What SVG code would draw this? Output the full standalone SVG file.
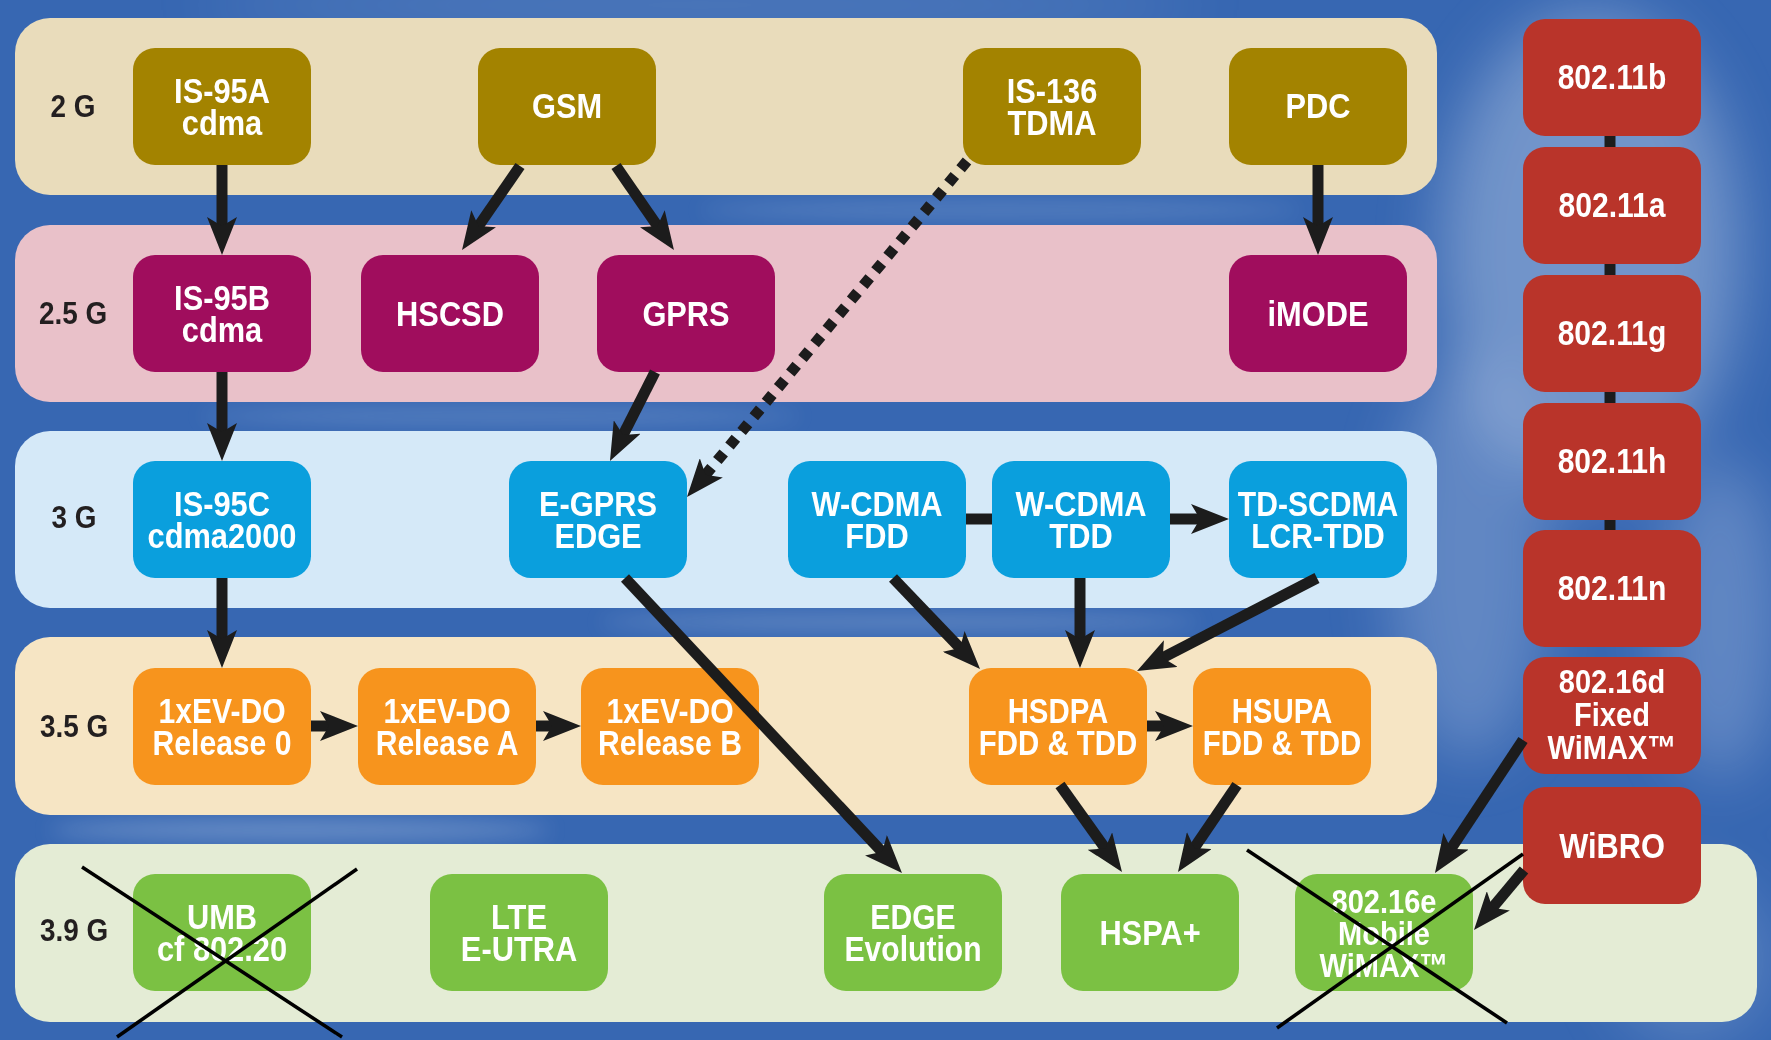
<svg xmlns="http://www.w3.org/2000/svg" width="1771" height="1040" viewBox="0 0 1771 1040">
<defs>
<style>
.nt{font-family:"Liberation Sans","Arial",sans-serif;font-weight:bold;font-size:35px;fill:#ffffff;text-anchor:middle}
.sm{font-size:33px}
.lbl{font-family:"Liberation Sans","Arial",sans-serif;font-weight:bold;font-size:31px;fill:#231f20;text-anchor:middle}
.c2{fill:#a38300}.c25{fill:#a00d5d}.c3{fill:#0a9fdd}.c35{fill:#f7941d}.c39{fill:#7bc143}.cw{fill:#b9342a}
.b2{fill:#e9dcbb}.b25{fill:#e9c1c9}.b3{fill:#d5e9f8}.b35{fill:#f6e5c4}.b39{fill:#e4ecd5}
.conn{stroke:#1c1c1c;stroke-width:11;fill:none;marker-end:url(#ah)}
.dot{stroke-dasharray:10 9}
.link{stroke:#1c1c1c;stroke-width:11;fill:none}
.x{stroke:#000;stroke-width:3.5;fill:none}
</style>
<marker id="ah" markerUnits="userSpaceOnUse" viewBox="0 0 40 30" markerWidth="40" markerHeight="30" refX="18" refY="15" orient="auto">
<path d="M0,0 L38,15 L0,30 L9,15 z" fill="#1c1c1c"/>
</marker>
<filter id="blur" x="-50%" y="-50%" width="200%" height="200%"><feGaussianBlur stdDeviation="30"/></filter>
<filter id="blur2" x="-50%" y="-50%" width="200%" height="200%"><feGaussianBlur stdDeviation="10"/></filter>
</defs>

<g id="background">
<rect x="0" y="0" width="1771" height="1040" fill="#3767b2"/>
<g filter="url(#blur)" fill="#dfe9f6">
<ellipse cx="1590" cy="250" rx="150" ry="240" opacity="0.35"/>
<ellipse cx="1470" cy="560" rx="80" ry="200" opacity="0.25"/>
<ellipse cx="1720" cy="620" rx="60" ry="160" opacity="0.25"/>
<ellipse cx="1690" cy="960" rx="80" ry="80" opacity="0.2"/>
<ellipse cx="700" cy="5" rx="500" ry="20" opacity="0.2"/>
</g>
<g filter="url(#blur2)" fill="#e6eef8">
<ellipse cx="300" cy="830" rx="250" ry="10" opacity="0.3"/>
<ellipse cx="900" cy="622" rx="300" ry="8" opacity="0.25"/>
<ellipse cx="500" cy="416" rx="300" ry="8" opacity="0.2"/>
<ellipse cx="1000" cy="210" rx="300" ry="8" opacity="0.2"/>
</g>
</g>

<g id="bands">
<g id="band-2g"><rect class="b2" x="15" y="18" width="1422" height="177" rx="35"/><text class="lbl" transform="translate(73 0) scale(0.9 1)" x="0" y="117">2 G</text></g>
<g id="band-25g"><rect class="b25" x="15" y="225" width="1422" height="177" rx="35"/><text class="lbl" transform="translate(73 0) scale(0.9 1)" x="0" y="324">2.5 G</text></g>
<g id="band-3g"><rect class="b3" x="15" y="431" width="1422" height="177" rx="35"/><text class="lbl" transform="translate(74 0) scale(0.9 1)" x="0" y="528">3 G</text></g>
<g id="band-35g"><rect class="b35" x="15" y="637" width="1422" height="178" rx="35"/><text class="lbl" transform="translate(74 0) scale(0.9 1)" x="0" y="737">3.5 G</text></g>
<g id="band-39g"><rect class="b39" x="15" y="844" width="1742" height="178" rx="35"/><text class="lbl" transform="translate(74 0) scale(0.9 1)" x="0" y="941">3.9 G</text></g>
</g>

<g id="wifi-links">
<line class="link" x1="1610" y1="130" x2="1610" y2="535" stroke-width="10"/>
</g>

<g id="nodes">
<g id="n-is95a"><rect class="c2" x="133" y="48" width="178" height="117" rx="22"/><text class="nt" transform="translate(222 0) scale(0.88 1)"><tspan x="0" y="103">IS-95A</tspan><tspan x="0" y="135">cdma</tspan></text></g>
<g id="n-gsm"><rect class="c2" x="478" y="48" width="178" height="117" rx="22"/><text class="nt" transform="translate(567 0) scale(0.88 1)" x="0" y="118">GSM</text></g>
<g id="n-is136"><rect class="c2" x="963" y="48" width="178" height="117" rx="22"/><text class="nt" transform="translate(1052 0) scale(0.88 1)"><tspan x="0" y="103">IS-136</tspan><tspan x="0" y="135">TDMA</tspan></text></g>
<g id="n-pdc"><rect class="c2" x="1229" y="48" width="178" height="117" rx="22"/><text class="nt" transform="translate(1318 0) scale(0.88 1)" x="0" y="118">PDC</text></g>

<g id="n-is95b"><rect class="c25" x="133" y="255" width="178" height="117" rx="22"/><text class="nt" transform="translate(222 0) scale(0.88 1)"><tspan x="0" y="310">IS-95B</tspan><tspan x="0" y="342">cdma</tspan></text></g>
<g id="n-hscsd"><rect class="c25" x="361" y="255" width="178" height="117" rx="22"/><text class="nt" transform="translate(450 0) scale(0.88 1)" x="0" y="326">HSCSD</text></g>
<g id="n-gprs"><rect class="c25" x="597" y="255" width="178" height="117" rx="22"/><text class="nt" transform="translate(686 0) scale(0.88 1)" x="0" y="326">GPRS</text></g>
<g id="n-imode"><rect class="c25" x="1229" y="255" width="178" height="117" rx="22"/><text class="nt" transform="translate(1318 0) scale(0.88 1)" x="0" y="326">iMODE</text></g>

<g id="n-is95c"><rect class="c3" x="133" y="461" width="178" height="117" rx="22"/><text class="nt" transform="translate(222 0) scale(0.88 1)"><tspan x="0" y="516">IS-95C</tspan><tspan x="0" y="548">cdma2000</tspan></text></g>
<g id="n-egprs"><rect class="c3" x="509" y="461" width="178" height="117" rx="22"/><text class="nt" transform="translate(598 0) scale(0.88 1)"><tspan x="0" y="516">E-GPRS</tspan><tspan x="0" y="548">EDGE</tspan></text></g>
<g id="n-wcdma-fdd"><rect class="c3" x="788" y="461" width="178" height="117" rx="22"/><text class="nt" transform="translate(877 0) scale(0.88 1)"><tspan x="0" y="516">W-CDMA</tspan><tspan x="0" y="548">FDD</tspan></text></g>
<g id="n-wcdma-tdd"><rect class="c3" x="992" y="461" width="178" height="117" rx="22"/><text class="nt" transform="translate(1081 0) scale(0.88 1)"><tspan x="0" y="516">W-CDMA</tspan><tspan x="0" y="548">TDD</tspan></text></g>
<g id="n-tdscdma"><rect class="c3" x="1229" y="461" width="178" height="117" rx="22"/><text class="nt" transform="translate(1318 0) scale(0.86 1)"><tspan x="0" y="516">TD-SCDMA</tspan><tspan x="0" y="548">LCR-TDD</tspan></text></g>

<g id="n-evdo0"><rect class="c35" x="133" y="668" width="178" height="117" rx="22"/><text class="nt" transform="translate(222 0) scale(0.86 1)"><tspan x="0" y="723">1xEV-DO</tspan><tspan x="0" y="755">Release 0</tspan></text></g>
<g id="n-evdoa"><rect class="c35" x="358" y="668" width="178" height="117" rx="22"/><text class="nt" transform="translate(447 0) scale(0.86 1)"><tspan x="0" y="723">1xEV-DO</tspan><tspan x="0" y="755">Release A</tspan></text></g>
<g id="n-evdob"><rect class="c35" x="581" y="668" width="178" height="117" rx="22"/><text class="nt" transform="translate(670 0) scale(0.86 1)"><tspan x="0" y="723">1xEV-DO</tspan><tspan x="0" y="755">Release B</tspan></text></g>
<g id="n-hsdpa"><rect class="c35" x="969" y="668" width="178" height="117" rx="22"/><text class="nt" transform="translate(1058 0) scale(0.84 1)"><tspan x="0" y="723">HSDPA</tspan><tspan x="0" y="755">FDD &amp; TDD</tspan></text></g>
<g id="n-hsupa"><rect class="c35" x="1193" y="668" width="178" height="117" rx="22"/><text class="nt" transform="translate(1282 0) scale(0.84 1)"><tspan x="0" y="723">HSUPA</tspan><tspan x="0" y="755">FDD &amp; TDD</tspan></text></g>

<g id="n-umb"><rect class="c39" x="133" y="874" width="178" height="117" rx="22"/><text class="nt" transform="translate(222 0) scale(0.88 1)"><tspan x="0" y="929">UMB</tspan><tspan x="0" y="961">cf 802.20</tspan></text></g>
<g id="n-lte"><rect class="c39" x="430" y="874" width="178" height="117" rx="22"/><text class="nt" transform="translate(519 0) scale(0.88 1)"><tspan x="0" y="929">LTE</tspan><tspan x="0" y="961">E-UTRA</tspan></text></g>
<g id="n-edgeevo"><rect class="c39" x="824" y="874" width="178" height="117" rx="22"/><text class="nt" transform="translate(913 0) scale(0.86 1)"><tspan x="0" y="929">EDGE</tspan><tspan x="0" y="961">Evolution</tspan></text></g>
<g id="n-hspaplus"><rect class="c39" x="1061" y="874" width="178" height="117" rx="22"/><text class="nt" transform="translate(1150 0) scale(0.88 1)" x="0" y="945">HSPA+</text></g>
<g id="n-80216e"><rect class="c39" x="1295" y="874" width="178" height="117" rx="22"/><text class="nt sm" transform="translate(1384 0) scale(0.88 1)"><tspan x="0" y="913">802.16e</tspan><tspan x="0" y="945">Mobile</tspan><tspan x="0" y="977">WiMAX™</tspan></text></g>

<g id="n-80211b"><rect class="cw" x="1523" y="19" width="178" height="117" rx="22"/><text class="nt" transform="translate(1612 0) scale(0.86 1)" x="0" y="89">802.11b</text></g>
<g id="n-80211a"><rect class="cw" x="1523" y="147" width="178" height="117" rx="22"/><text class="nt" transform="translate(1612 0) scale(0.86 1)" x="0" y="217">802.11a</text></g>
<g id="n-80211g"><rect class="cw" x="1523" y="275" width="178" height="117" rx="22"/><text class="nt" transform="translate(1612 0) scale(0.86 1)" x="0" y="345">802.11g</text></g>
<g id="n-80211h"><rect class="cw" x="1523" y="403" width="178" height="117" rx="22"/><text class="nt" transform="translate(1612 0) scale(0.86 1)" x="0" y="473">802.11h</text></g>
<g id="n-80211n"><rect class="cw" x="1523" y="530" width="178" height="117" rx="22"/><text class="nt" transform="translate(1612 0) scale(0.86 1)" x="0" y="600">802.11n</text></g>
<g id="n-80216d"><rect class="cw" x="1523" y="657" width="178" height="117" rx="22"/><text class="nt sm" transform="translate(1612 0) scale(0.88 1)"><tspan x="0" y="693">802.16d</tspan><tspan x="0" y="726">Fixed</tspan><tspan x="0" y="759">WiMAX™</tspan></text></g>
<g id="n-wibro"><rect class="cw" x="1523" y="787" width="178" height="117" rx="22"/><text class="nt" transform="translate(1612 0) scale(0.88 1)" x="0" y="858">WiBRO</text></g>
</g>

<g id="connectors">
<line class="conn" x1="222" y1="165" x2="222" y2="235"/>
<line class="conn" x1="520" y1="166" x2="473.4" y2="233.5"/>
<line class="conn" x1="616" y1="166" x2="662.6" y2="233.5"/>
<line class="conn" x1="1318" y1="165" x2="1318" y2="235"/>
<line class="conn" x1="222" y1="372" x2="222" y2="441"/>
<line class="conn" x1="655" y1="372" x2="619" y2="443.1"/>
<line class="conn dot" x1="967" y1="161" x2="699.8" y2="481.6"/>
<line class="conn" x1="222" y1="578" x2="222" y2="648"/>
<line class="conn" x1="311" y1="726" x2="338" y2="726"/>
<line class="conn" x1="536" y1="726" x2="561" y2="726"/>
<line class="conn" x1="625" y1="578" x2="888.3" y2="858.4"/>
<line class="link" x1="966" y1="519" x2="992" y2="519"/>
<line class="conn" x1="1170" y1="519" x2="1209" y2="519"/>
<line class="conn" x1="893" y1="578" x2="966.2" y2="654.5"/>
<line class="conn" x1="1080" y1="578" x2="1080" y2="648"/>
<line class="conn" x1="1317" y1="578" x2="1154.8" y2="661.8"/>
<line class="conn" x1="1147" y1="726" x2="1173" y2="726"/>
<line class="conn" x1="1060" y1="785" x2="1110.4" y2="855.7"/>
<line class="conn" x1="1237" y1="785" x2="1189.2" y2="855.4"/>
<line class="conn" x1="1523" y1="740" x2="1446" y2="856.3"/>
<line class="conn" x1="1524" y1="870" x2="1486.8" y2="914.6"/>
</g>

<g id="crossouts">
<line class="x" x1="82" y1="867" x2="342" y2="1037"/>
<line class="x" x1="357" y1="869" x2="117" y2="1037"/>
<line class="x" x1="1247" y1="850" x2="1507" y2="1023"/>
<line class="x" x1="1523" y1="854" x2="1277" y2="1028"/>
</g>
</svg>
